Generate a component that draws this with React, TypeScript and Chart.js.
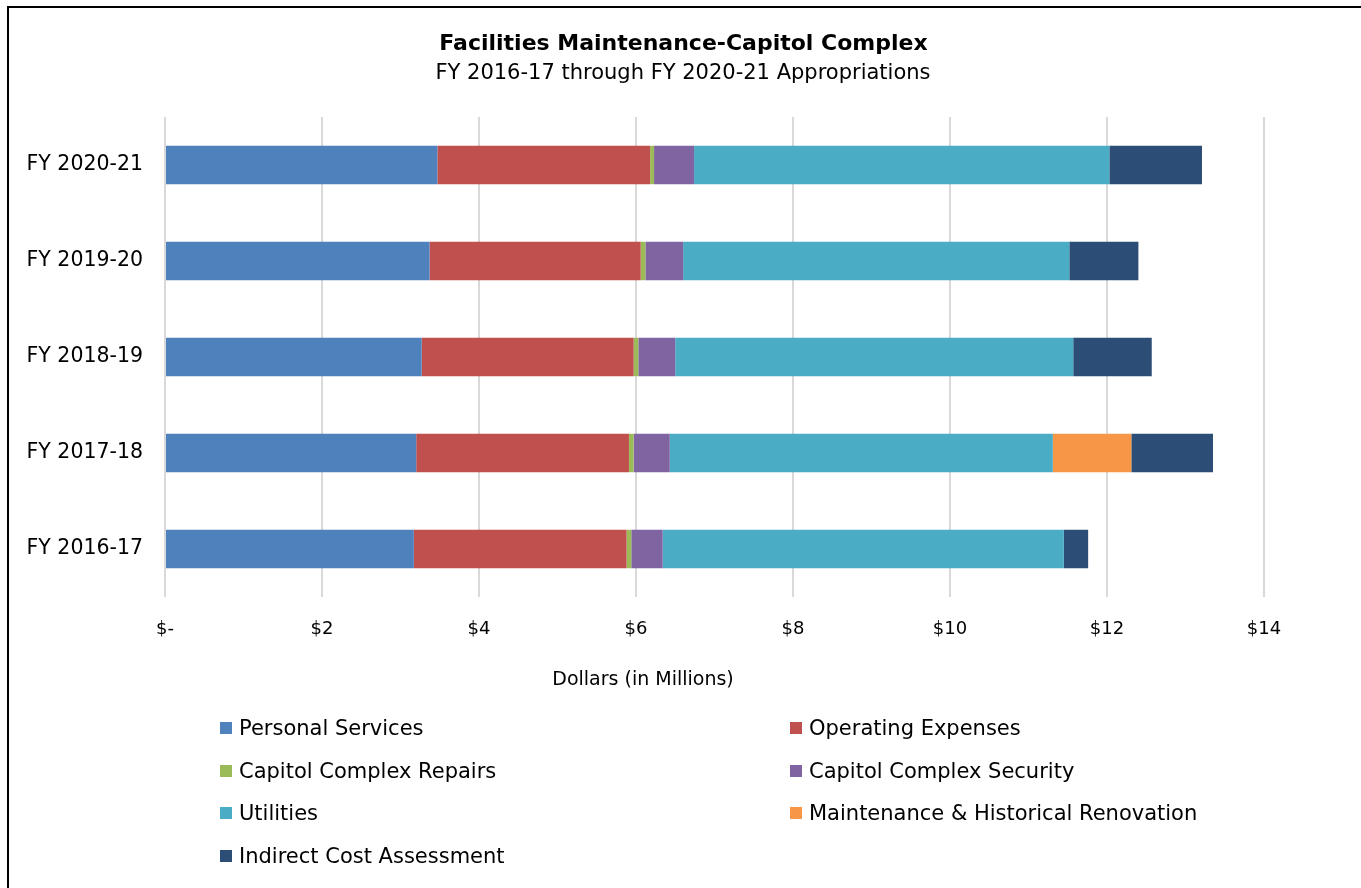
import React, { useEffect, useRef } from "react";
import { Chart, registerables } from "chart.js";

Chart.register(...registerables);

const categories = ["FY 2020-21", "FY 2019-20", "FY 2018-19", "FY 2017-18", "FY 2016-17"];
const personalServices = [3.47, 3.37, 3.27, 3.2, 3.17];
const operatingExpenses = [2.71, 2.69, 2.7, 2.71, 2.71];
const capitolComplexRepairs = [0.05, 0.06, 0.06, 0.06, 0.06];
const capitolComplexSecurity = [0.51, 0.48, 0.47, 0.46, 0.4];
const utilities = [5.29, 4.92, 5.07, 4.88, 5.11];
const maintenanceRenovation = [0, 0, 0, 1.0, 0];
const indirectCostAssessment = [1.18, 0.88, 1.0, 1.04, 0.31];

const seriesNames = [
  "Personal Services",
  "Operating Expenses",
  "Capitol Complex Repairs",
  "Capitol Complex Security",
  "Utilities",
  "Maintenance & Historical Renovation",
  "Indirect Cost Assessment",
];
const seriesValues = [
  personalServices,
  operatingExpenses,
  capitolComplexRepairs,
  capitolComplexSecurity,
  utilities,
  maintenanceRenovation,
  indirectCostAssessment,
];
const seriesColors = ["#4F81BD", "#C0504D", "#9BBB59", "#8064A2", "#4BACC6", "#F79646", "#2C4D75"];

const xMin = 0;
const xMax = 14;
const xStep = 2;

const titleText = "Facilities Maintenance-Capitol Complex";
const subtitleText = "FY 2016-17 through FY 2020-21 Appropriations";
const axisTitle = "Dollars (in Millions)";

const FONT = "'DejaVu Sans', Verdana, sans-serif";

export default function App() {
  const canvasRef = useRef<HTMLCanvasElement | null>(null);

  useEffect(() => {
    const canvas = canvasRef.current;
    if (!canvas) return;
    const chart = new Chart(canvas, {
      type: "bar",
      data: {
        labels: categories,
        datasets: seriesNames.map((name, i) => ({
          label: name,
          data: seriesValues[i],
          backgroundColor: seriesColors[i],
          borderWidth: 0,
          barPercentage: 0.4,
          categoryPercentage: 1,
        })),
      },
      options: {
        indexAxis: "y",
        responsive: false,
        animation: false,
        devicePixelRatio: 1,
        layout: { padding: { left: 0, right: 97, top: 117, bottom: 0 } },
        plugins: {
          legend: { display: false },
          title: { display: false },
          tooltip: { enabled: false },
        },
        scales: {
          x: {
            stacked: true,
            min: xMin,
            max: xMax,
            border: { display: false },
            grid: { color: "#d9d9d9", lineWidth: 2, drawTicks: false },
            ticks: {
              stepSize: xStep,
              padding: 22,
              color: "#000",
              font: { family: FONT, size: 18 },
              callback: (v: any) => (Number(v) === 0 ? "$-" : "$" + v),
            },
            afterFit: (scale: any) => {
              scale.height = 291;
            },
          },
          y: {
            stacked: true,
            border: { display: false },
            grid: { display: false, drawTicks: false },
            ticks: {
              padding: 22,
              color: "#000",
              font: { family: FONT, size: 20.5 },
            },
            afterFit: (scale: any) => {
              scale.width = 165;
            },
          },
        },
      },
    });
    return () => chart.destroy();
  }, []);

  const legendRows: number[] = [728, 771, 813, 856];

  return (
    <div
      style={{
        position: "fixed",
        left: 0,
        top: 0,
        width: 1361,
        height: 888,
        background: "#fff",
        overflow: "hidden",
        fontFamily: FONT,
        color: "#000",
      }}
    >
      <div
        style={{
          position: "absolute",
          left: 7,
          top: 6,
          width: 1400,
          height: 950,
          border: "2px solid #000",
          boxSizing: "border-box",
        }}
      />
      <canvas ref={canvasRef} width={1361} height={888} style={{ position: "absolute", left: 0, top: 0 }} />
      <div
        style={{
          position: "absolute",
          left: 0,
          width: 1367,
          top: 29,
          textAlign: "center",
          fontWeight: "bold",
          fontSize: 22,
          lineHeight: "28px",
        }}
      >
        {titleText}
      </div>
      <div
        style={{
          position: "absolute",
          left: 0,
          width: 1366,
          top: 58,
          textAlign: "center",
          fontSize: 21,
          lineHeight: "28px",
        }}
      >
        {subtitleText}
      </div>
      <div
        style={{
          position: "absolute",
          left: 443,
          width: 400,
          top: 665,
          textAlign: "center",
          fontSize: 19,
          lineHeight: "26px",
        }}
      >
        {axisTitle}
      </div>
      {seriesNames.map((name, i) => {
        const col = i % 2;
        const row = Math.floor(i / 2);
        const left = col === 0 ? 220 : 790;
        const cy = legendRows[row];
        return (
          <div
            key={name}
            style={{
              position: "absolute",
              left,
              top: cy - 14,
              height: 28,
              display: "flex",
              alignItems: "center",
              whiteSpace: "nowrap",
              fontSize: 21,
            }}
          >
            <span
              style={{
                display: "inline-block",
                width: 12,
                height: 12,
                background: seriesColors[i],
                marginRight: 7,
              }}
            />
            <span>{name}</span>
          </div>
        );
      })}
    </div>
  );
}
